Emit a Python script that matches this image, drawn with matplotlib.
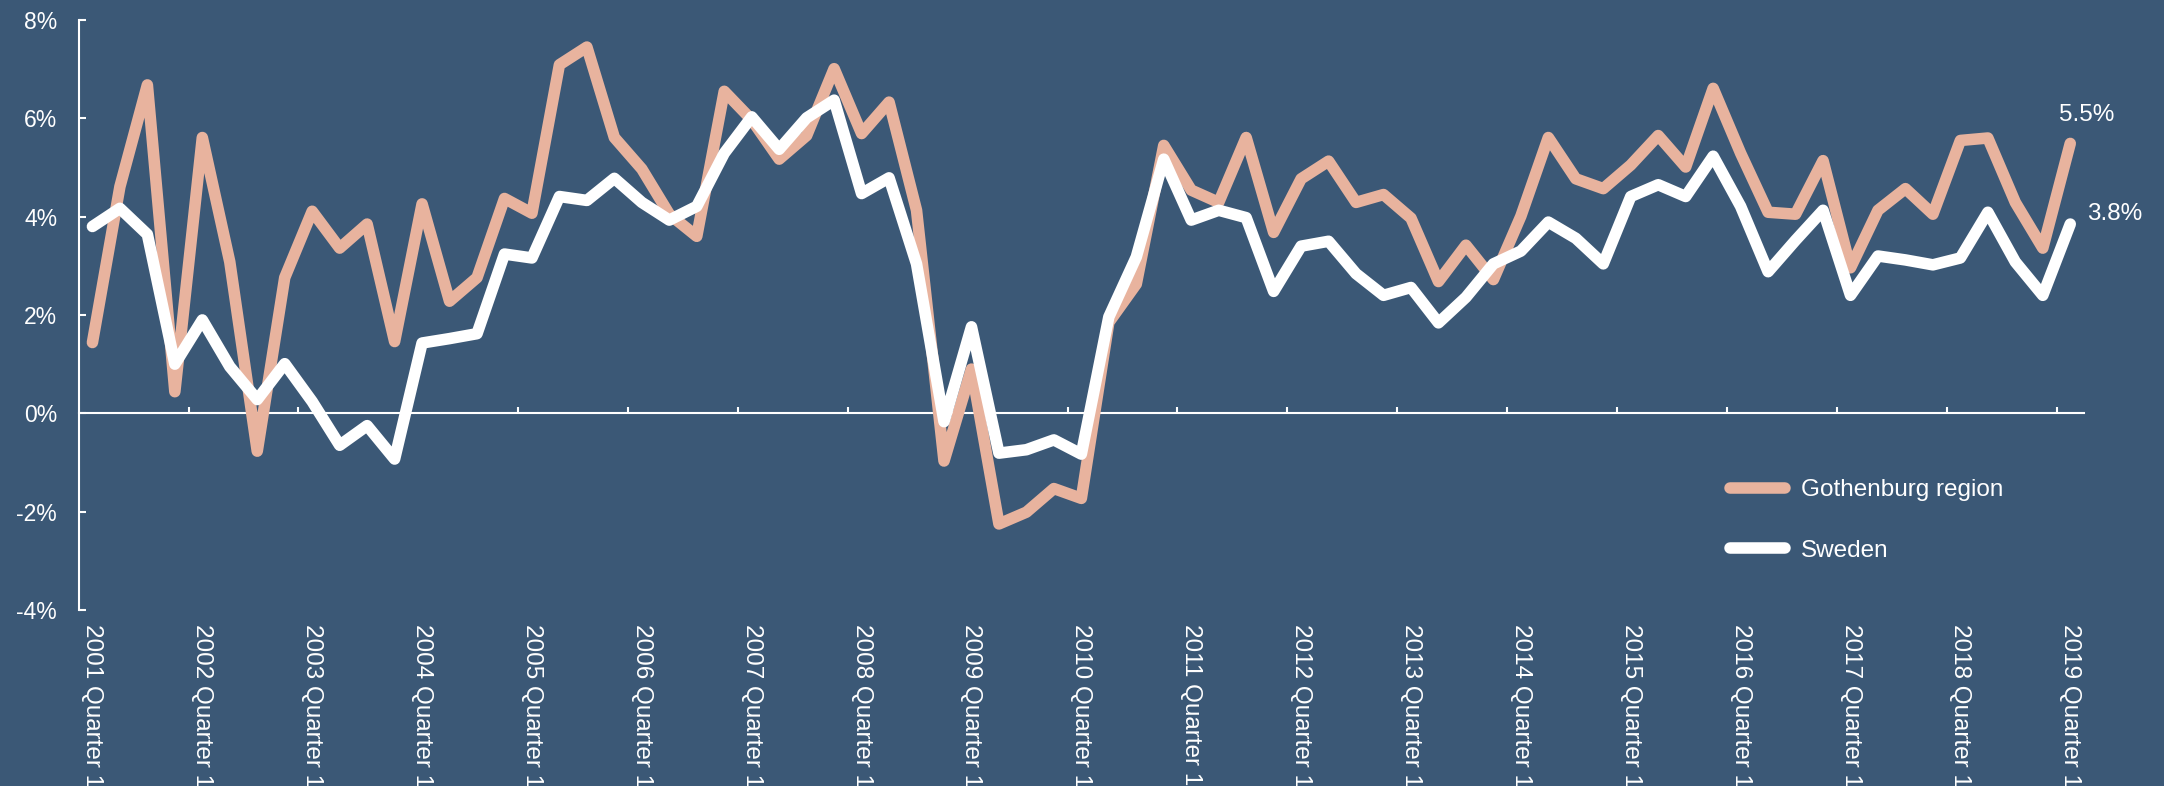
import matplotlib
matplotlib.use("Agg")
import matplotlib.pyplot as plt

# ---- data ----
years = list(range(2001, 2020))
quarters = [f"{y} Quarter {q}" for y in range(2001, 2020) for q in (1, 2, 3, 4)][:73]
year_labels = [f"{y} Quarter 1" for y in years]

gothenburg = [1.44, 4.61, 6.68, 0.44, 5.61, 3.08, -0.77, 2.76, 4.11, 3.36, 3.85, 1.46,
              4.26, 2.28, 2.76, 4.37, 4.07, 7.09, 7.45, 5.61, 4.97, 4.05, 3.60, 6.55,
              5.97, 5.17, 5.65, 7.01, 5.69, 6.33, 4.13, -0.97, 0.90, -2.25, -2.01, -1.53,
              -1.73, 1.85, 2.63, 5.45, 4.54, 4.29, 5.61, 3.68, 4.77, 5.13, 4.29, 4.45,
              3.97, 2.68, 3.42, 2.72, 4.01, 5.61, 4.77, 4.57, 5.05, 5.65, 5.01, 6.61,
              5.29, 4.09, 4.05, 5.14, 2.96, 4.13, 4.57, 4.05, 5.55, 5.60, 4.29, 3.36, 5.49]
sweden = [3.80, 4.17, 3.64, 1.00, 1.90, 0.95, 0.28, 1.01, 0.24, -0.65, -0.25, -0.93,
          1.43, 1.52, 1.62, 3.24, 3.16, 4.41, 4.33, 4.78, 4.29, 3.93, 4.21, 5.29,
          6.03, 5.37, 6.01, 6.37, 4.47, 4.79, 3.04, -0.17, 1.76, -0.81, -0.74, -0.54,
          -0.83, 1.96, 3.18, 5.17, 3.93, 4.13, 3.98, 2.48, 3.40, 3.50, 2.84, 2.40,
          2.56, 1.84, 2.36, 3.04, 3.30, 3.89, 3.56, 3.04, 4.41, 4.65, 4.41, 5.23,
          4.21, 2.88, 3.52, 4.13, 2.40, 3.20, 3.12, 3.02, 3.16, 4.09, 3.08, 2.40, 3.85]
y_ticks = [-4, -2, 0, 2, 4, 6, 8]
y_tick_labels = ["-4%", "-2%", "0%", "2%", "4%", "6%", "8%"]
series_names = ["Gothenburg region", "Sweden"]
end_labels = ["5.5%", "3.8%"]

# ---- style ----
BG = "#3b5876"
SALMON = "#e8b39e"
WHITE = "#ffffff"
LW = 8.3
plt.rcParams["font.family"] = ["Liberation Sans", "DejaVu Sans"]

W, H = 2164, 786
fig = plt.figure(figsize=(W / 100, H / 100), dpi=100, facecolor=BG)
ax = fig.add_axes([78.7 / W, 1 - 610 / H, (2084 - 78.7) / W, (610 - 20) / H])
ax.set_facecolor(BG)

x = list(range(len(quarters)))
lg, = ax.plot(x, gothenburg, color=SALMON, lw=LW, solid_joinstyle="round",
              solid_capstyle="round", zorder=3, label=series_names[0])
ls, = ax.plot(x, sweden, color=WHITE, lw=LW, solid_joinstyle="round",
              solid_capstyle="round", zorder=4, label=series_names[1])

ax.set_xlim(-0.5, len(quarters) - 0.5)
ax.set_ylim(-4, 8)

for s in ("top", "right"):
    ax.spines[s].set_visible(False)
ax.spines["left"].set_color(WHITE)
ax.spines["left"].set_linewidth(1.5)
ax.spines["bottom"].set_position(("data", 0))
ax.spines["bottom"].set_color(WHITE)
ax.spines["bottom"].set_linewidth(1.5)

ax.set_yticks(y_ticks)
ax.set_yticklabels(y_tick_labels)
ax.tick_params(axis="y", direction="in", length=5, width=1.5, color=WHITE,
               labelcolor=WHITE, labelsize=16.5, pad=15.5)

ax.set_xticks([i + 3.5 for i in range(0, 72, 4)])
ax.set_xticklabels([])
ax.tick_params(axis="x", direction="in", length=4.3, width=1.5, color=WHITE)

for yi, lab in enumerate(year_labels):
    ax.annotate(lab, xy=(yi * 4, 0), xycoords=("data", "axes fraction"),
                xytext=(0, -14), textcoords="offset pixels", rotation=-90,
                ha="center", va="top", color=WHITE, fontsize=17.5,
                annotation_clip=False)

ax.annotate(end_labels[0], xy=(x[-1], gothenburg[-1]), xytext=(16, 28),
            textcoords="offset pixels", ha="center", va="center",
            color=WHITE, fontsize=17.5)
ax.annotate(end_labels[1], xy=(x[-1], sweden[-1]), xytext=(17, 10),
            textcoords="offset pixels", ha="left", va="center",
            color=WHITE, fontsize=17.5)

leg = ax.legend(handles=[lg, ls], loc="upper left",
                bbox_to_anchor=(1730 / W, 1 - 479 / H), bbox_transform=fig.transFigure,
                frameon=False, fontsize=17.5, handlelength=2.26, handletextpad=0.66,
                labelspacing=1.6, borderpad=0, borderaxespad=0)
for t in leg.get_texts():
    t.set_color(WHITE)
for h in leg.get_lines():
    h.set_linewidth(LW)
    h.set_solid_capstyle("round")

fig.savefig("out.png", dpi=100, facecolor=BG)
